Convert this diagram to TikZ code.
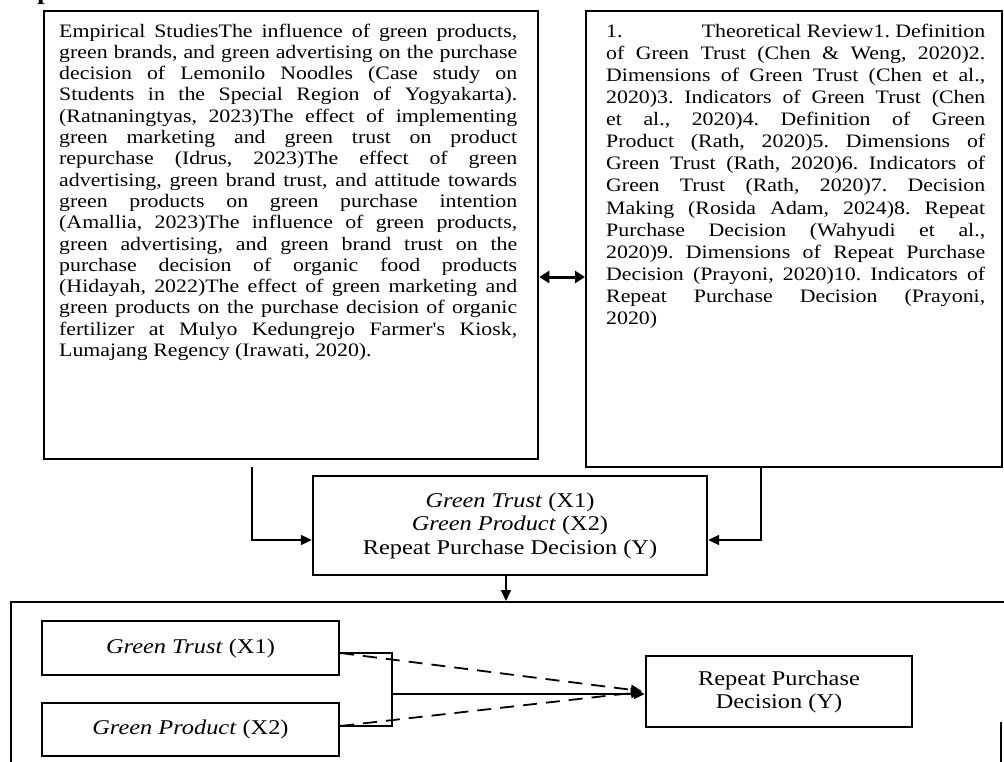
\documentclass[tikz,border=0pt]{standalone}
\usepackage{fontspec}
\setmainfont{Liberation Serif}[FakeStretch=1.16]
\newfontfamily\boxfont[FakeStretch=1.15]{Liberation Serif}
\usetikzlibrary{arrows.meta,calc}
\tikzset{
  boxline/.style={draw, line width=2.3pt, inner sep=0pt},
  conn/.style={line width=1.8pt},
  tip/.tip={Triangle[length=11pt,width=10pt]},
  arr/.style={conn, -tip},
  dashconn/.style={line width=1.8pt, dash pattern=on 14pt off 9pt, -tip, shorten >=3pt},
  lbl/.style={font=\fontsize{21}{23.5}\selectfont, align=center},
  para/.style={anchor=north west, inner sep=0pt},
}
\begin{document}
\begin{tikzpicture}[x=1pt,y=-1pt]
\useasboundingbox (0,0) rectangle (1004,762);
\fill[white] (0,0) rectangle (1004,762);
% cropped fragment at top
\node[anchor=base west, inner sep=0pt, font=\bfseries\fontsize{24}{24}\selectfont] (pfrag) at (37,-0.5) {p};
% left box
\node[boxline, anchor=north west, minimum width=494pt, minimum height=448pt] (lb) at (43,10) {};
\node[para] (lbt) at (59,23.5) {\parbox[t]{458pt}{\boxfont\fontsize{19}{21.3}\selectfont\frenchspacing\hyphenpenalty=10000\hbadness=10000
Empirical StudiesThe influence of green products,\linebreak
green brands, and green advertising on the purchase\linebreak
decision of Lemonilo Noodles (Case study on\linebreak
Students in the Special Region of Yogyakarta).\linebreak
(Ratnaningtyas, 2023)The effect of implementing\linebreak
green marketing and green trust on product\linebreak
repurchase (Idrus, 2023)The effect of green\linebreak
advertising, green brand trust, and attitude towards\linebreak
green products on green purchase intention\linebreak
(Amallia, 2023)The influence of green products,\linebreak
green advertising, and green brand trust on the\linebreak
purchase decision of organic food products\linebreak
(Hidayah, 2022)The effect of green marketing and\linebreak
green products on the purchase decision of organic\linebreak
fertilizer at Mulyo Kedungrejo Farmer's Kiosk,\linebreak
Lumajang Regency (Irawati, 2020).}};
% right box
\node[boxline, anchor=north west, minimum width=416pt, minimum height=456pt] (rb) at (585,10) {};
\node[para] (rbt) at (606,23.7) {\parbox[t]{379pt}{\boxfont\fontsize{19}{22.1}\selectfont\frenchspacing\hyphenpenalty=10000\hbadness=10000
1.\hfill Theoretical Review1. Definition\linebreak
of Green Trust (Chen \& Weng, 2020)2.\linebreak
Dimensions of Green Trust (Chen et al.,\linebreak
2020)3. Indicators of Green Trust (Chen\linebreak
et al., 2020)4. Definition of Green\linebreak
Product (Rath, 2020)5. Dimensions of\linebreak
Green Trust (Rath, 2020)6. Indicators of\linebreak
Green Trust (Rath, 2020)7. Decision\linebreak
Making (Rosida Adam, 2024)8. Repeat\linebreak
Purchase Decision (Wahyudi et al.,\linebreak
2020)9. Dimensions of Repeat Purchase\linebreak
Decision (Prayoni, 2020)10. Indicators of\linebreak
Repeat Purchase Decision (Prayoni,\linebreak
2020)}};
% double arrow between boxes
\coordinate (dy) at (560,277);
\draw[line width=3pt, {Triangle[length=10pt,width=12pt]}-{Triangle[length=10pt,width=12pt]}] (lb.east |- dy) -- (rb.west |- dy);
% central box
\node[boxline, lbl, minimum width=394pt, minimum height=99pt] (cb) at (510,525.5)
  {\textit{Green Trust} (X1)\\\textit{Green Product} (X2)\\Repeat Purchase Decision (Y)};
\coordinate (l1) at (252,467);
\draw[arr] (l1) |- ([yshift=-14.5pt]cb.west);
\coordinate (r1) at (761,466);
\draw[arr] (rb.south -| r1) |- ([yshift=-14.5pt]cb.east);
% bottom frame
\draw[line width=2pt] (1004,602) -- (11,602) -- (11,762);
\draw[line width=2pt] (1001,722) -- (1001,762);
\coordinate (frtop) at (506,601);
\draw[arr] (frtop |- cb.south) -- (frtop);
% bottom model
\node[boxline, lbl, minimum width=297pt, minimum height=54pt] (gt) at (190.5,648) {\textit{Green Trust} (X1)};
\node[boxline, lbl, minimum width=297pt, minimum height=53pt] (gp) at (190.5,729.5) {\textit{Green Product} (X2)};
\node[boxline, minimum width=266pt, minimum height=71pt, align=center, font=\fontsize{21}{23}\selectfont] (rpd) at (779,691.5) {Repeat Purchase\\Decision (Y)};
\coordinate (bt) at (392,653);
\coordinate (bb) at (392,726);
\coordinate (bm) at (392,694);
\draw[conn] (gt.east |- bt) -- (bt) -- (bb) -- (gp.east |- bb);
\draw[arr] (bm) -- (bm -| rpd.west);
\draw[dashconn] (gt.east |- bt) -- (rpd.west);
\draw[dashconn] (gp.east |- bb) -- (rpd.west);
\end{tikzpicture}
\end{document}
